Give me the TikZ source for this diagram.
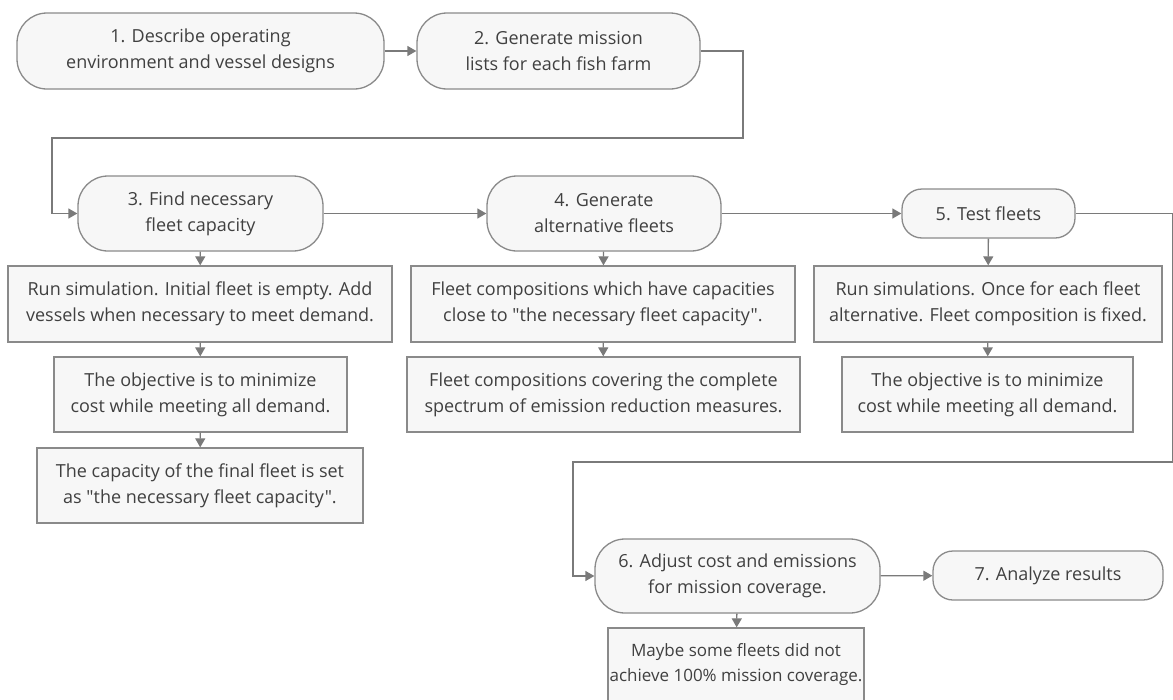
\documentclass[tikz,border=0pt]{standalone}
\usepackage{fontspec}
\setmainfont{Open Sans}[Ligatures=TeXOff]
\usetikzlibrary{arrows.meta}
\definecolor{boxfill}{HTML}{F7F7F7}
\definecolor{boxline}{HTML}{8A8A8A}
\definecolor{txt}{HTML}{404040}
\definecolor{conn}{HTML}{7A7A7A}
\tikzset{
  base/.style={draw=boxline, fill=boxfill, line width=1.3pt, text=txt, align=center,
    font=\fontsize{18}{26}\selectfont, inner sep=0pt},
  pill/.style={base, rectangle, rounded corners=30pt},
  smallpill/.style={base, rectangle, rounded corners=20pt},
  sbox/.style={base, rectangle},
  conn/.style={draw=conn, line width=1.3pt, -{Triangle[length=9pt,width=10pt]}}
}
\begin{document}
\begin{tikzpicture}[x=1pt,y=-1pt]
\useasboundingbox (0,0) rectangle (1173,699);
% main steps
\node[pill, minimum width=367pt, minimum height=76pt] (n1) at (200.5,51) {1. Describe operating\\environment and vessel designs};
\node[pill, minimum width=283pt, minimum height=76pt] (n2) at (558.5,51) {2. Generate mission\\lists for each fish farm};
\node[pill, minimum width=245pt, minimum height=75pt] (n3) at (200.5,213.5) {3. Find necessary\\fleet capacity};
\node[pill, minimum width=234pt, minimum height=75pt] (n4) at (604,213.5) {4. Generate\\alternative fleets};
\node[smallpill, minimum width=173pt, minimum height=49pt] (n5) at (988.5,213.5) {5. Test fleets};
\node[pill, minimum width=285pt, minimum height=74pt] (n6) at (737.5,576) {6. Adjust cost and emissions\\for mission coverage.};
\node[smallpill, minimum width=230pt, minimum height=49pt] (n7) at (1048,575.5) {7. Analyze results};
% detail boxes
\node[sbox, minimum width=384pt, minimum height=76pt] (b3a) at (200,304) {Run simulation. Initial fleet is empty. Add\\vessels when necessary to meet demand.};
\node[sbox, minimum width=293pt, minimum height=75pt] (b3b) at (200.5,394.5) {The objective is to minimize\\cost while meeting all demand.};
\node[sbox, minimum width=326pt, minimum height=75pt] (b3c) at (200,485.5) {The capacity of the final fleet is set\\as "the necessary fleet capacity".};
\node[sbox, minimum width=384pt, minimum height=76pt] (b4a) at (603,304) {Fleet compositions which have capacities\\close to "the necessary fleet capacity".};
\node[sbox, minimum width=393pt, minimum height=75pt] (b4b) at (603.5,394.5) {Fleet compositions covering the complete\\spectrum of emission reduction measures.};
\node[sbox, minimum width=348pt, minimum height=76pt] (b5a) at (988,304) {Run simulations. Once for each fleet\\alternative. Fleet composition is fixed.};
\node[sbox, minimum width=291pt, minimum height=75pt] (b5b) at (987.5,394.5) {The objective is to minimize\\cost while meeting all demand.};
\node[sbox, minimum width=256pt, minimum height=74pt, font=\fontsize{17}{25}\selectfont] (b6a) at (736,665) {Maybe some fleets did not\\achieve 100\% mission coverage.};
% corner coordinates
\coordinate (c2a) at (743,51);
\coordinate (c2b) at (743,138);
\coordinate (c2c) at (52,138);
\coordinate (c2d) at (52,213.5);
\coordinate (c5a) at (1172.5,213.5);
\coordinate (c5b) at (1172.5,462);
\coordinate (c5c) at (573,462);
\coordinate (c5d) at (573,576);
% connectors
\draw[conn] (n1) -- (n2);
\draw[conn] (n2.east) -- (c2a) -- (c2b) -- (c2c) -- (c2d) -- (n3.west);
\draw[conn] (n3) -- (n4);
\draw[conn] (n4) -- (n5);
\draw[conn] (n5.east) -- (c5a) -- (c5b) -- (c5c) -- (c5d) -- (n6.west);
\draw[conn] (n6) -- (n7);
\draw[conn] (n3) -- (b3a);
\draw[conn] (b3a) -- (b3b);
\draw[conn] (b3b) -- (b3c);
\draw[conn] (n4) -- (b4a);
\draw[conn] (b4a) -- (b4b);
\draw[conn] (n5) -- (b5a);
\draw[conn] (b5a) -- (b5b);
\draw[conn] (n6) -- (b6a);
\end{tikzpicture}
\end{document}
